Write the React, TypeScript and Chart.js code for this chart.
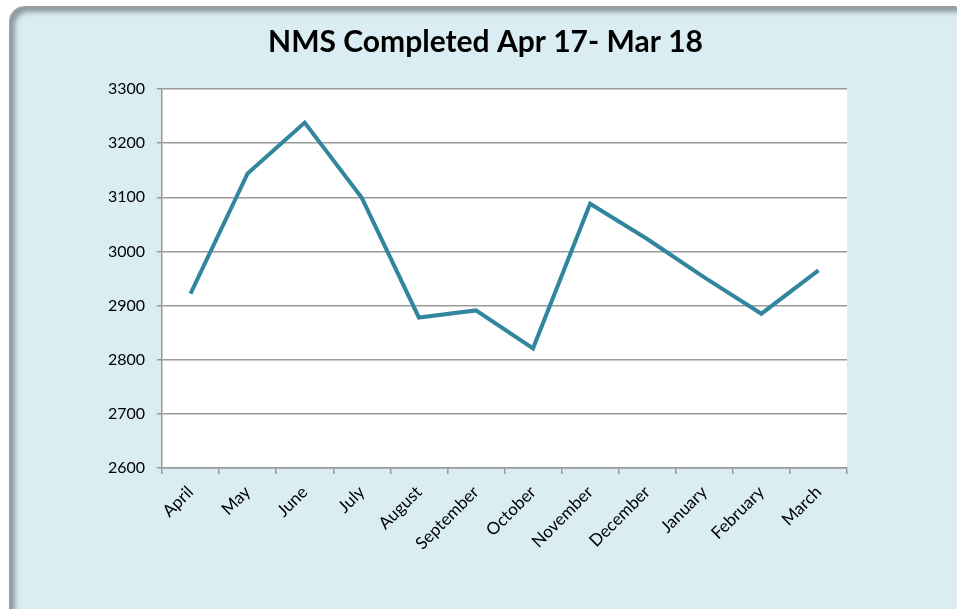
import React, { useEffect, useRef } from "react";
import { Chart, registerables } from "chart.js";

Chart.register(...registerables);

const titleText = "NMS Completed Apr 17- Mar 18";
const months = [
  "April", "May", "June", "July", "August", "September",
  "October", "November", "December", "January", "February", "March",
];
const completed = [2922, 3144, 3238, 3099, 2878, 2891, 2821, 3088, 3023, 2952, 2885, 2965];
const yMin = 2600;
const yMax = 3300;
const yStep = 100;

const FONT = "Lato, 'Open Sans', sans-serif";

const plotBg = {
  id: "plotBg",
  beforeDraw(chart: any) {
    const { ctx, chartArea } = chart;
    if (!chartArea) return;
    ctx.save();
    ctx.fillStyle = "#ffffff";
    ctx.fillRect(chartArea.left, chartArea.top, chartArea.right - chartArea.left, chartArea.bottom - chartArea.top);
    ctx.restore();
  },
};

export default function App() {
  const ref = useRef<HTMLCanvasElement | null>(null);

  useEffect(() => {
    document.body.style.margin = "0";
    if (!ref.current) return;
    const chart = new Chart(ref.current, {
      type: "line",
      data: {
        labels: months,
        datasets: [
          {
            label: "NMS Completed",
            data: completed,
            borderColor: "#31859c",
            borderWidth: 4,
            pointRadius: 0,
            pointHoverRadius: 0,
            tension: 0,
            fill: false,
          },
        ],
      },
      options: {
        animation: false,
        responsive: false,
        maintainAspectRatio: false,
        layout: { padding: { left: 14, right: 0, top: 0, bottom: 0 } },
        plugins: {
          legend: { display: false },
          tooltip: { enabled: false },
          title: {
            display: true,
            text: titleText,
            color: "#000000",
            font: { family: FONT, size: 30, weight: "bold", lineHeight: 1.2 },
            padding: { top: 24, bottom: 29 },
          },
        },
        scales: {
          x: {
            type: "category",
            offset: true,
            grid: {
              offset: true,
              drawOnChartArea: false,
              drawTicks: true,
              tickLength: 6,
              color: "#9a9a9a",
              lineWidth: 1.5,
            },
            border: { display: true, color: "#9a9a9a", width: 1.5 },
            ticks: {
              color: "#000000",
              font: { family: FONT, size: 17 },
              maxRotation: 45,
              minRotation: 45,
              autoSkip: false,
              padding: 8,
            },
            afterFit: (s: any) => {
              s.height = 141;
            },
          },
          y: {
            min: yMin,
            max: yMax,
            grid: {
              color: "#9a9a9a",
              lineWidth: 1.5,
              tickLength: 5,
              drawTicks: true,
            },
            border: { display: true, color: "#9a9a9a", width: 1.5 },
            ticks: {
              stepSize: yStep,
              color: "#000000",
              font: { family: FONT, size: 16 },
              padding: 12,
              callback: (v: any) => String(v),
            },
            afterFit: (s: any) => {
              s.width = 148;
            },
          },
          yr: {
            position: "right",
            display: true,
            grid: { display: false, drawTicks: false },
            border: { display: false },
            ticks: { display: false },
            afterFit: (s: any) => {
              s.width = 110;
            },
          },
        },
      },
      plugins: [plotBg],
    });
    return () => chart.destroy();
  }, []);

  return (
    <div style={{ position: "fixed", left: 0, top: 0, width: 957, height: 609, background: "#ffffff", overflow: "hidden" }}>
      <div
        style={{
          position: "absolute",
          left: 9,
          top: 6,
          width: 960,
          height: 620,
          background: "#daedf3",
          borderRadius: 15,
          border: "1px solid #a0a0a0",
          boxShadow: "inset 5px 5px 5px rgba(0,0,0,0.35)",
          boxSizing: "border-box",
        }}
      />
      <canvas ref={ref} width={957} height={609} style={{ position: "absolute", left: 0, top: 0, width: 957, height: 609 }} />
    </div>
  );
}
